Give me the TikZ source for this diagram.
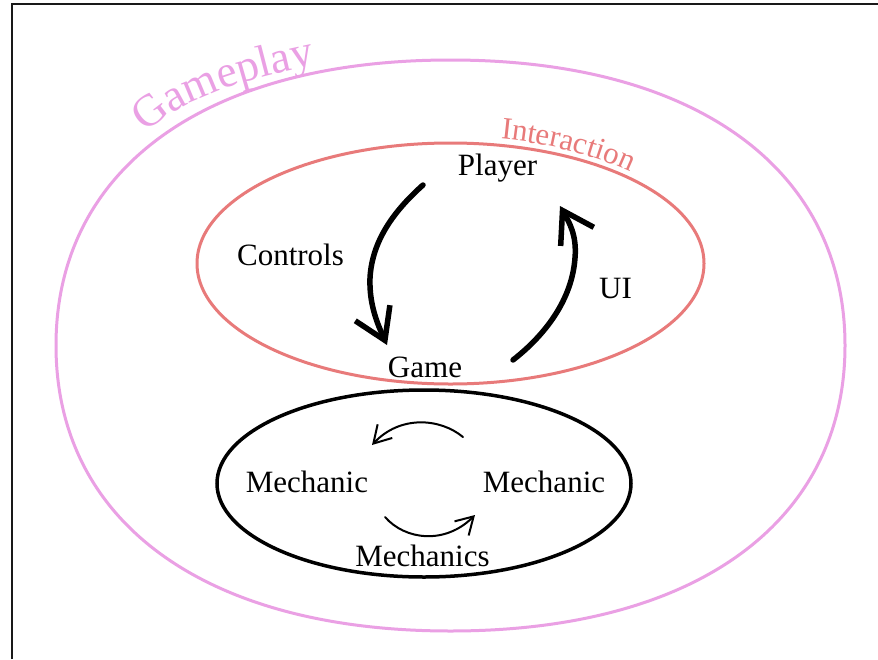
\documentclass[tikz,border=0pt]{standalone}
\usepackage{fontspec}
\setmainfont{Liberation Serif}
\usetikzlibrary{arrows.meta,decorations.text}
\definecolor{gpink}{RGB}{234,160,228}
\definecolor{salmon}{RGB}{232,122,122}
\begin{document}
\begin{tikzpicture}[x=1pt,y=1pt,
  lbl/.style={font=\fontsize{31}{36}\selectfont, inner sep=0pt, anchor=base},
  frameline/.style={line width=2.2pt, draw=black!90},
  gameplayline/.style={line width=3pt, draw=gpink},
  interline/.style={line width=3pt, draw=salmon},
  mechline/.style={line width=3.5pt, draw=black},
  bigarrow/.style={line width=5.5pt, line cap=round, -{Straight Barb[length=30pt,width=38pt]}},
  smallarrow/.style={line width=2pt, line cap=round, -{Straight Barb[length=17pt,width=20pt]}}
]
\useasboundingbox (0,0) rectangle (878,-659);
\fill[white] (0,0) rectangle (878,-659);
% frame
\draw[frameline] (12,-659) -- (12,-4) -- (878,-4);
% gameplay region
\draw[gameplayline] (845,-345.5) .. controls (845,-168.5) and (695.1,-60) .. (450.5,-60)
  .. controls (205.9,-60) and (56,-168.5) .. (56,-345.5)
  .. controls (56,-522.5) and (205.9,-631) .. (450.5,-631)
  .. controls (695.1,-631) and (845,-522.5) .. cycle;
\path[decorate, decoration={text along path, text align=center,
  text={|\fontsize{45}{48}\selectfont\color{gpink}|Gameplay}}]
  (146,-133) .. controls (184.9,-94.1) and (261.2,-76.4) .. (315,-65);
% interaction region
\draw[interline] (450.5,-263.5) ellipse [x radius=253.5pt, y radius=120.5pt];
\path[decorate, decoration={text along path, text align=center,
  text={|\fontsize{31}{34}\selectfont\color{salmon}|Interaction}}]
  ([shift={(450.5,-263.5)}]82:259 and 127) arc[start angle=82, end angle=42, x radius=259, y radius=127];
% mechanics region
\draw[mechline] (424,-483.5) ellipse [x radius=207pt, y radius=93.5pt];
% labels
\node[lbl] (player) at (497.5,-175) {Player};
\node[lbl] (controls) at (290.5,-265) {Controls};
\node[lbl] (ui) at (615.5,-298) {UI};
\node[lbl] (game) at (425,-377) {Game};
\node[lbl] (mechL) at (307,-492) {Mechanic};
\node[lbl] (mechR) at (544,-492) {Mechanic};
\node[lbl] (mechs) at (422.5,-566) {Mechanics};
% arrow end points
\coordinate (c0) at (423,-185);
\coordinate (c1) at (387,-345);
\coordinate (u0) at (513,-360);
\coordinate (u1) at (560,-206);
\coordinate (t0) at (463,-437);
\coordinate (t1) at (372,-445);
\coordinate (b0) at (385,-517);
\coordinate (b1) at (475,-515);
% arrows
\draw[bigarrow] (c0) .. controls (395,-210) and (372,-240) .. (370,-278)
  .. controls (369,-305) and (378,-325) .. (c1);
\draw[bigarrow] (u0) .. controls (545,-335) and (572,-300) .. (575,-258)
  .. controls (577,-235) and (569,-222) .. (u1);
\draw[smallarrow] (t0) .. controls (440,-418) and (400,-415) .. (t1);
\draw[smallarrow] (b0) .. controls (405,-540) and (445,-545) .. (b1);
\end{tikzpicture}
\end{document}
